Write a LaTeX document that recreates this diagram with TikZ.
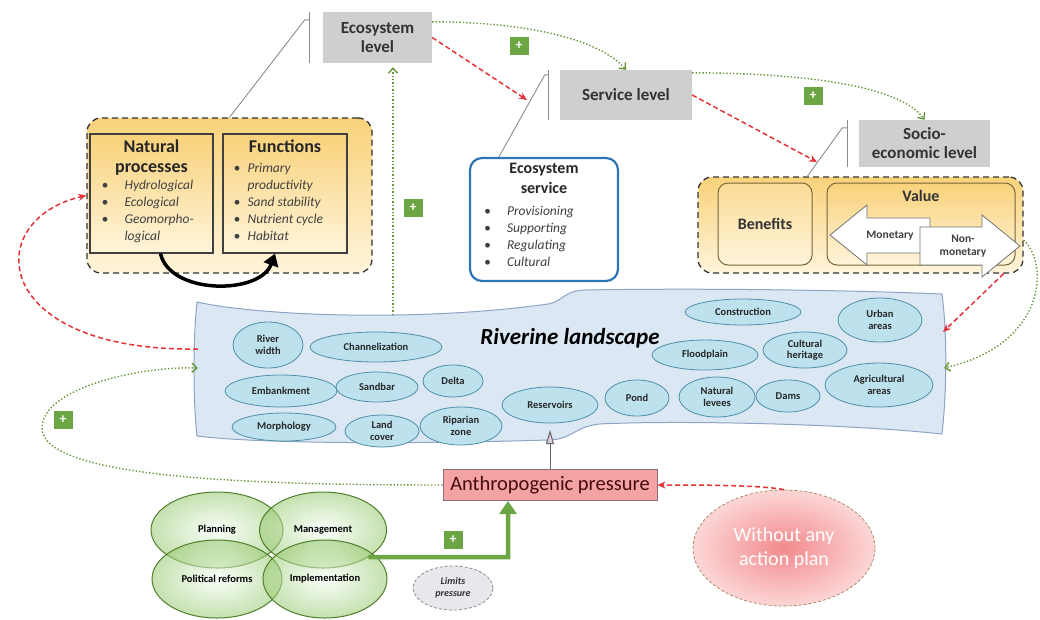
\documentclass[tikz,border=0pt]{standalone}
\usepackage{fontspec}
\setmainfont{Carlito}
\usepackage{tikz}
\usetikzlibrary{shapes.geometric, arrows.meta, positioning, calc}
\definecolor{levelgray}{RGB}{208,207,207}
\definecolor{callgray}{RGB}{140,140,140}
\definecolor{redarr}{RGB}{226,52,56}
\definecolor{greendot}{RGB}{104,150,58}
\definecolor{plusgreen}{RGB}{107,165,68}
\definecolor{orangetop}{RGB}{249,210,122}
\definecolor{orangebot}{RGB}{255,244,219}
\definecolor{brownborder}{RGB}{120,100,60}
\definecolor{blueborder}{RGB}{47,117,181}
\definecolor{landfill}{RGB}{220,231,244}
\definecolor{landborder}{RGB}{141,164,196}
\definecolor{ellfill}{RGB}{189,226,238}
\definecolor{ellborder}{RGB}{78,143,168}
\definecolor{anthrofill}{RGB}{243,163,163}
\definecolor{anthroborder}{RGB}{138,106,122}
\definecolor{darkred}{RGB}{70,10,10}
\definecolor{toolgreen}{RGB}{150,200,110}
\definecolor{greenborder}{RGB}{79,127,44}
\definecolor{limitfill}{RGB}{230,232,236}
\definecolor{pinkin}{RGB}{243,138,141}
\definecolor{pinkout}{RGB}{252,214,214}
\definecolor{lavender}{RGB}{222,205,232}
\tikzstyle{levelbox} = [rectangle, fill=levelgray, text=black!80, align=center, inner sep=2pt, font=\fontsize{17}{19}\selectfont\bfseries]
\tikzstyle{callout} = [draw=callgray, line width=0.9pt]
\tikzstyle{dashbox} = [rectangle, rounded corners=14pt, draw=black!80, line width=1.3pt, dash pattern=on 6pt off 4pt, top color=orangetop, bottom color=orangebot]
\tikzstyle{innerbox} = [rectangle, draw=black!75, line width=1.2pt, top color=orangetop, bottom color=orangebot]
\tikzstyle{valuebox} = [rectangle, rounded corners=10pt, draw=brownborder, line width=1pt, top color=orangetop!80, bottom color=orangebot, font=\fontsize{16}{18}\selectfont\bfseries, text=black!80]
\tikzstyle{servbox} = [rectangle, rounded corners=12pt, draw=blueborder, line width=2.2pt, fill=white]
\tikzstyle{boxtitle} = [align=center, font=\fontsize{18}{20}\selectfont\bfseries, text=black!85, inner sep=0pt]
\tikzstyle{itemlist} = [align=left, font=\fontsize{13.5}{17}\selectfont\itshape, text=black!75, inner sep=0pt]
\tikzstyle{blockarrow} = [fill=white, draw=black!55, line width=0.8pt]
\tikzstyle{arrowtext} = [align=center, font=\fontsize{11.5}{13}\selectfont\bfseries, text=black!75]
\tikzstyle{plusbox} = [rectangle, fill=plusgreen, text=white, minimum width=19pt, minimum height=18pt, inner sep=0pt, font=\fontsize{14}{14}\selectfont\bfseries]
\tikzstyle{feature} = [ellipse, draw=ellborder, fill=ellfill, line width=0.8pt, inner sep=0pt, align=center, text=black!85, font=\fontsize{10.5}{11.5}\selectfont\bfseries]
\tikzstyle{toolell} = [ellipse, draw=greenborder, inner color=green!4, outer color=toolgreen, fill opacity=0.55, text opacity=1, line width=1pt, inner sep=0pt, font=\fontsize{10.5}{12}\selectfont\bfseries]
\tikzstyle{pressbox} = [rectangle, fill=anthrofill, draw=anthroborder, line width=1pt, text=darkred, font=\fontsize{20.5}{23}\selectfont]
\tikzstyle{limitell} = [ellipse, fill=limitfill, draw=black!45, densely dashed, line width=0.8pt, align=center, font=\fontsize{10}{12}\selectfont\bfseries\itshape, text=black!80]
\tikzstyle{noplan} = [ellipse, inner color=pinkin, outer color=pinkout, draw=brown!60!gray, densely dashed, line width=0.7pt, align=center, text=white, font=\fontsize{20}{24}\selectfont]
\tikzstyle{redarrow} = [draw=redarr, line width=1.5pt, dash pattern=on 5pt off 3pt, -{Stealth[length=8pt,width=7pt]}]
\tikzstyle{greenarrow} = [draw=greendot, line width=1.4pt, dotted, -{Straight Barb[length=5pt,width=9pt]}]
\tikzstyle{curvearrow} = [draw=black, line width=3.5pt, -{Triangle[length=12pt,width=15pt]}]
\tikzstyle{greenthick} = [draw=plusgreen, line width=4.5pt, -{Triangle[length=13pt,width=17pt]}]
\tikzstyle{pressarrow} = [draw=black!60, line width=1pt, -{Triangle[length=14pt,width=8pt,fill=lavender]}]
\newcommand{\bitem}[2]{\makebox[#1][l]{\textbullet}#2}

\begin{document}
\begin{tikzpicture}[x=1pt, y=-1pt]
\useasboundingbox (0,0) rectangle (1040,619);

% riverine landscape
\draw [fill=landfill, draw=landborder, line width=1pt] (197,302) .. controls (260,316) and (420,322) .. (548,304) .. controls (562,302) and (565,290) .. (585,290) .. controls (700,288) and (850,290) .. (942,294) .. controls (948,340) and (946,400) .. (942,434) .. controls (850,424) and (680,420) .. (600,424) .. controls (575,426) and (572,440) .. (548,440) .. controls (420,444) and (260,444) .. (197,436) .. controls (193,400) and (193,340) .. cycle;
\coordinate (landT) at (393,315);
\coordinate (landB) at (550,430);
\coordinate (landL1) at (198,349);
\coordinate (landL2) at (198,368);
\coordinate (landR1) at (943,332);
\coordinate (landR2) at (944,368);
\node (rivtitle) [font=\fontsize{23}{26}\selectfont\bfseries\itshape] at (570,338) {Riverine landscape};

\node (rivwidth) [feature, minimum width=70pt, minimum height=46pt] at (268,345) {River\\width};
\node (channel) [feature, minimum width=132pt, minimum height=30pt] at (376,347) {Channelization};
\node (embank) [feature, minimum width=112pt, minimum height=32pt] at (281,391) {Embankment};
\node (sandbar) [feature, minimum width=82pt, minimum height=30pt] at (377,387) {Sandbar};
\node (delta) [feature, minimum width=60pt, minimum height=32pt] at (453,381) {Delta};
\node (morph) [feature, minimum width=104pt, minimum height=28pt] at (284,427) {Morphology};
\node (landcov) [feature, minimum width=74pt, minimum height=32pt] at (382,431) {Land\\cover};
\node (riparian) [feature, minimum width=82pt, minimum height=38pt] at (461,426) {Riparian\\zone};
\node (reserv) [feature, minimum width=96pt, minimum height=36pt] at (550,405) {Reservoirs};
\node (pond) [feature, minimum width=64pt, minimum height=36pt] at (637,398) {Pond};
\node (construct) [feature, minimum width=116pt, minimum height=26pt] at (743,312) {Construction};
\node (flood) [feature, minimum width=106pt, minimum height=30pt] at (705,355) {Floodplain};
\node (cultural) [feature, minimum width=84pt, minimum height=36pt] at (805,350) {Cultural\\heritage};
\node (urban) [feature, minimum width=84pt, minimum height=44pt] at (880,320) {Urban\\areas};
\node (levees) [feature, minimum width=76pt, minimum height=40pt] at (717,397) {Natural\\levees};
\node (dams) [feature, minimum width=64pt, minimum height=32pt] at (788,396) {Dams};
\node (agri) [feature, minimum width=108pt, minimum height=44pt] at (879,385) {Agricultural\\areas};

% ecosystem level group
\node (natbox) [dashbox, minimum width=285pt, minimum height=155pt] at (229.5,195.5) {};
\node (natproc) [innerbox, minimum width=123pt, minimum height=119pt] at (151.5,193.5) {};
\node (funct) [innerbox, minimum width=124pt, minimum height=119pt] at (285,193.5) {};
\node (nattitle) [boxtitle, below=6pt of natproc.north] {Natural\\processes};
\node (natlist) [itemlist, anchor=north west] at ([shift={(12pt,-47pt)}]natproc.north west) {\bitem{23pt}{Hydrological}\\\bitem{23pt}{Ecological}\\\bitem{23pt}{Geomorpho-}\\\hspace*{23pt}logical};
\node (fntitle) [boxtitle, below=6pt of funct.north] {Functions};
\node (fnlist) [itemlist, anchor=north west] at ([shift={(11pt,-30pt)}]funct.north west) {\bitem{14pt}{Primary}\\\hspace*{14pt}productivity\\\bitem{14pt}{Sand stability}\\\bitem{14pt}{Nutrient cycle}\\\bitem{14pt}{Habitat}};
\draw [curvearrow] ([xshift=9pt]natproc.south) .. controls (170,295) and (260,295) .. ([xshift=-10pt]funct.south);

% service level group
\node (ecoserv) [servbox, minimum width=148pt, minimum height=123pt] at (544,219.5) {};
\node (sertitle) [boxtitle, below=6pt of ecoserv.north, font=\fontsize{16}{20}\selectfont\bfseries] {Ecosystem\\service};
\node (serlist) [itemlist, anchor=north west] at ([shift={(15pt,-49pt)}]ecoserv.north west) {\bitem{23pt}{Provisioning}\\\bitem{23pt}{Supporting}\\\bitem{23pt}{Regulating}\\\bitem{23pt}{Cultural}};

% socio-economic level group
\node (valgroup) [dashbox, minimum width=325pt, minimum height=96pt] at (860.5,225) {};
\node (benefits) [valuebox, minimum width=94pt, minimum height=82pt] at (765,224) {Benefits};
\node (value) [valuebox, minimum width=188pt, minimum height=82pt, top color=orangetop] at (921,224) {};
\node (valtitle) [below=8pt of value.north, inner sep=0pt, font=\fontsize{16}{18}\selectfont\bfseries, text=black!80] {Value};
\draw [blockarrow] (830,235) -- (867,205) -- (867,218) -- (930,218) -- (930,253) -- (867,253) -- (867,265) -- cycle;
\node (monetary) [arrowtext] at (890,235.5) {Monetary};
\draw [blockarrow] (920,227) -- (982,227) -- (982,215) -- (1020,246) -- (982,277) -- (982,265) -- (920,265) -- cycle;
\node (nonmon) [arrowtext] at (963,246) {Non-\\monetary};

% levels
\node (ecolevel) [levelbox, minimum width=109pt, minimum height=51pt] at (377.5,37.5) {Ecosystem\\level};
\node (servlevel) [levelbox, minimum width=132pt, minimum height=50pt] at (626,95) {Service level};
\node (sociolevel) [levelbox, minimum width=131pt, minimum height=47pt] at (924.5,143.5) {Socio-\\economic level};

\draw [callout] ([xshift=-13pt]ecolevel.north west) -- ([xshift=-13pt]ecolevel.south west);
\draw [callout] ([xshift=-13pt,yshift=-8pt]ecolevel.north west) -- ++(-5pt,0) -- (natbox.north);
\draw [callout] ([xshift=-11pt]servlevel.north west) -- ([xshift=-11pt]servlevel.south west);
\draw [callout] ([xshift=-11pt,yshift=-5pt]servlevel.north west) -- ++(-4pt,0) -- ([xshift=30pt]ecoserv.north west);
\draw [callout] ([xshift=-11.5pt]sociolevel.north west) -- ([xshift=-11.5pt]sociolevel.south west);
\draw [callout] ([xshift=-11.5pt,yshift=-8pt]sociolevel.north west) -- ++(-5pt,0) -- ([xshift=110pt]valgroup.north west);

% bottom part
\node (anthro) [pressbox, minimum width=214pt, minimum height=31pt] at (550,485) {Anthropogenic pressure};
\node (planning) [toolell, minimum width=132pt, minimum height=76pt] at (217,530) {Planning};
\node (manage) [toolell, minimum width=127pt, minimum height=76pt] at (323,530) {Management};
\node (political) [toolell, minimum width=130pt, minimum height=78pt] at (217,579) {Political reforms};
\node (implement) [toolell, minimum width=124pt, minimum height=78pt] at (325,579) {Implementation};
\node (limits) [limitell, minimum width=80pt, minimum height=44pt] at (453,588) {Limits\\pressure};
\node (without) [noplan, minimum width=182pt, minimum height=116pt] at (784,548) {Without any\\action plan};
\coordinate (upturn) at (508,557);

% plus signs
\node (plus1) [plusbox] at (519,46) {+};
\node (plus2) [plusbox] at (813,96) {+};
\node (plus3) [plusbox] at (413,208) {+};
\node (plus4) [plusbox] at (63,420) {+};
\node (plus5) [plusbox] at (453,540) {+};

% connectors
\coordinate (servtip) at (527,100);
\coordinate (sociotip) at (817,162);
\draw [redarrow] (ecolevel.east) -- (servtip);
\draw [redarrow] (servlevel.east) -- (sociotip);
\draw [redarrow] ([xshift=-20pt]valgroup.south east) -- (landR1);
\draw [redarrow] (landL1) .. controls (-10,352) and (-20,220) .. (natbox.west);
\draw [redarrow] (without.north) .. controls (760,485) and (700,485) .. (anthro.east);
\draw [greenarrow] ([yshift=-10pt]ecolevel.north east) .. controls (530,22) and (600,40) .. (servlevel.north);
\draw [greenarrow] ([yshift=-3pt]servlevel.north east) .. controls (800,73) and (900,85) .. (sociolevel.north);
\draw [greenarrow] ([yshift=-15pt]valgroup.east) .. controls (1050,265) and (1045,345) .. (landR2);
\draw [greenarrow, shorten >=4pt] (landT) -- (landT |- ecolevel.south);
\draw [greenarrow] (anthro.west) .. controls (250,485) and (42,478) .. (42,428) .. controls (42,388) and (140,366) .. (landL2);
\draw [pressarrow] (anthro.north) -- (landB);
\draw [greenthick] (manage.south east) -- (upturn) -- (upturn |- anthro.south);
\end{tikzpicture}
\end{document}
